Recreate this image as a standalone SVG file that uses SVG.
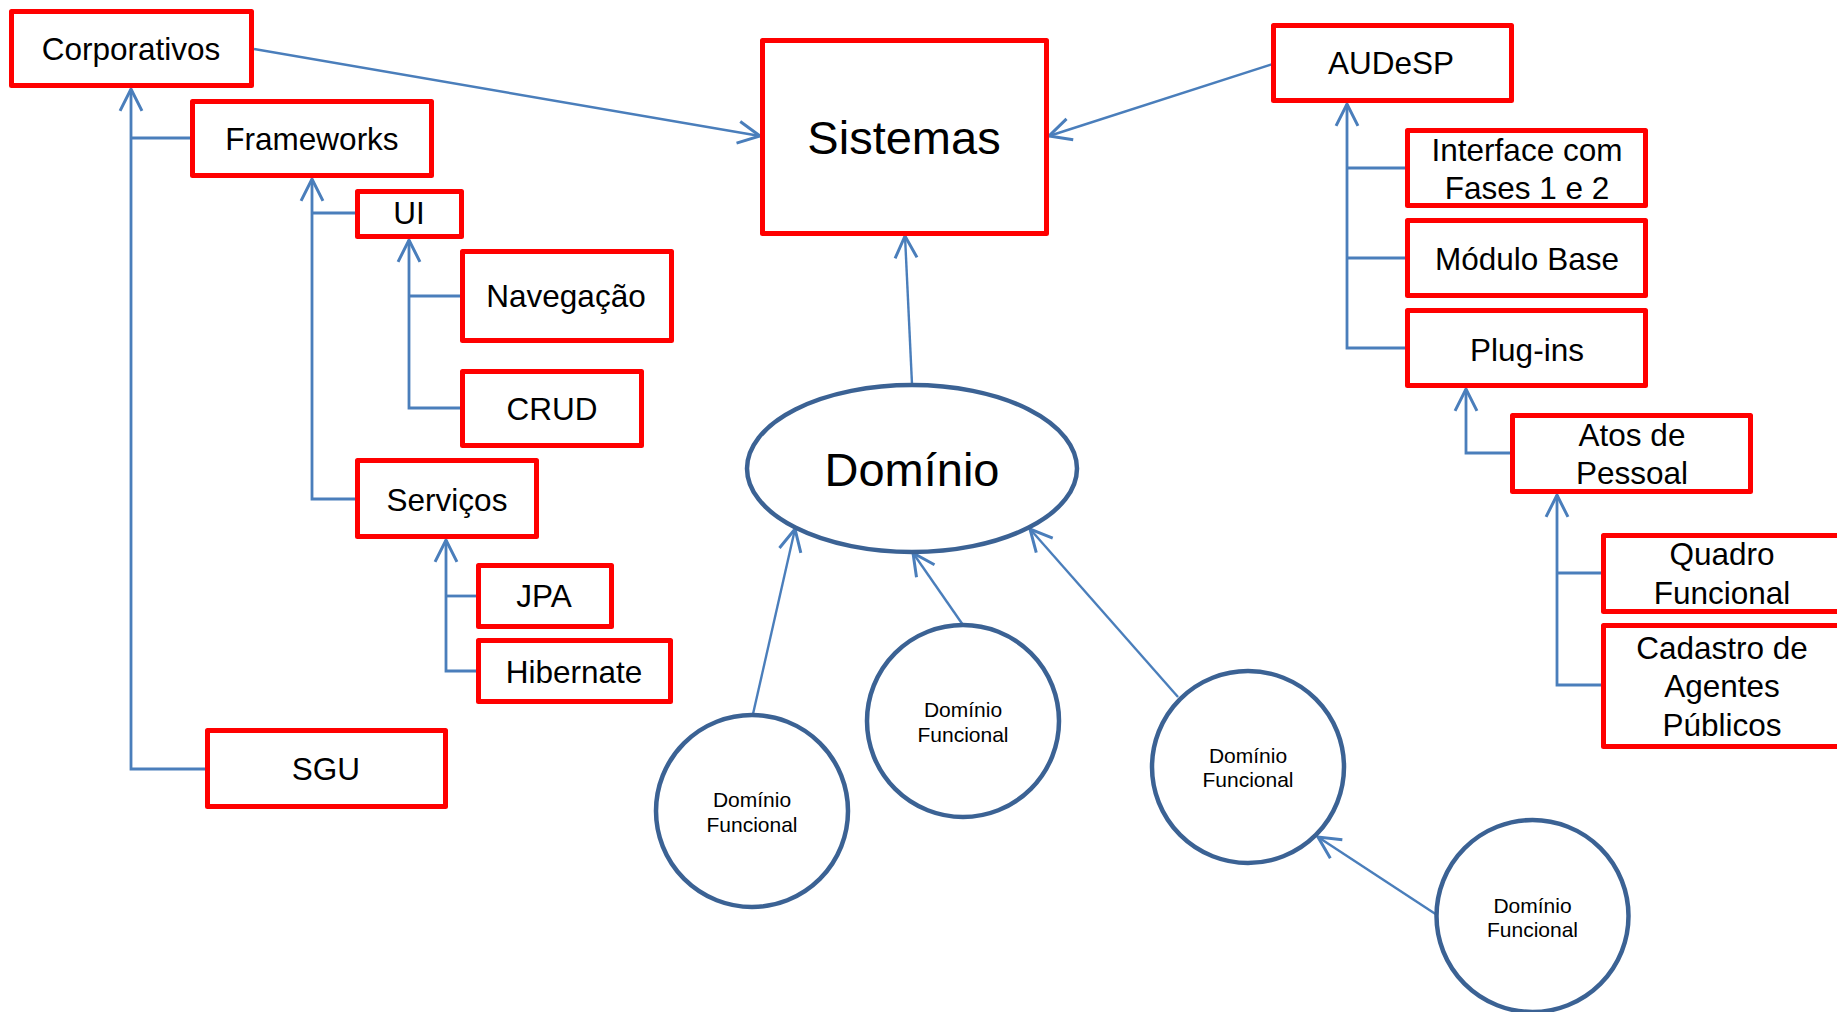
<svg xmlns="http://www.w3.org/2000/svg" width="1837" height="1012" viewBox="0 0 1837 1012">
<style>
.box{fill:#FFFFFF;stroke:#FF0000;stroke-width:5;stroke-linejoin:round}
.circ{fill:#FFFFFF;stroke:#3B6294;stroke-width:4.5}
.t{font-family:"Liberation Sans",Arial,sans-serif;font-size:31.5px;fill:#000000;text-anchor:middle}
.big{font-size:47px}
.sm{font-size:21px}
.c{fill:none;stroke:#4A7EBB;stroke-width:2.8}
.d{fill:none;stroke:#4A7EBB;stroke-width:2.4}
</style>
<defs>
<marker id="arr" markerUnits="userSpaceOnUse" markerWidth="30" markerHeight="30" viewBox="-22 -12 26 24" refX="0" refY="0" orient="auto" overflow="visible">
<path d="M-19,-9.5 L0,0 L-19,9.5" fill="none" stroke="#4A7EBB" stroke-width="2.6"/>
</marker>
</defs>
<rect width="1837" height="1012" fill="#FFFFFF"/>
<g id="connectors">
<line class="d" x1="254" y1="49" x2="760" y2="136" marker-end="url(#arr)"/>
<line class="d" x1="1273" y1="64" x2="1049" y2="136" marker-end="url(#arr)"/>
<line class="d" x1="912" y1="384" x2="905" y2="236" marker-end="url(#arr)"/>
<line class="d" x1="753" y1="714" x2="795" y2="529" marker-end="url(#arr)"/>
<line class="d" x1="963" y1="625" x2="913" y2="553" marker-end="url(#arr)"/>
<line class="d" x1="1178" y1="697" x2="1030" y2="529" marker-end="url(#arr)"/>
<line class="d" x1="1437" y1="915" x2="1318" y2="837" marker-end="url(#arr)"/>
<path class="c" d="M207,769 H131 V89" marker-end="url(#arr)"/>
<path class="c" d="M131,138 H192"/>
<path class="c" d="M357,499 H312 V179" marker-end="url(#arr)"/>
<path class="c" d="M312,213 H357"/>
<path class="c" d="M462,408 H409 V240" marker-end="url(#arr)"/>
<path class="c" d="M409,296 H462"/>
<path class="c" d="M478,671 H446 V540" marker-end="url(#arr)"/>
<path class="c" d="M446,596 H478"/>
<path class="c" d="M1407,348 H1347 V104" marker-end="url(#arr)"/>
<path class="c" d="M1347,168 H1407 M1347,258 H1407"/>
<path class="c" d="M1512,453 H1466 V389" marker-end="url(#arr)"/>
<path class="c" d="M1603,685 H1557 V495" marker-end="url(#arr)"/>
<path class="c" d="M1557,573 H1603"/>
</g>
<g id="corporativos"><rect class="box" x="11.5" y="11.5" width="240" height="74"/><text class="t" x="131" y="60">Corporativos</text></g>
<g id="frameworks"><rect class="box" x="192.5" y="101.5" width="239" height="74"/><text class="t" x="312" y="150">Frameworks</text></g>
<g id="ui"><rect class="box" x="357.5" y="191.5" width="104" height="45"/><text class="t" x="409" y="224">UI</text></g>
<g id="navegacao"><rect class="box" x="462.5" y="251.5" width="209" height="89"/><text class="t" x="566" y="307">Navegação</text></g>
<g id="crud"><rect class="box" x="462.5" y="371.5" width="179" height="74"/><text class="t" x="552" y="420">CRUD</text></g>
<g id="servicos"><rect class="box" x="357.5" y="460.5" width="179" height="76"/><text class="t" x="447" y="511">Serviços</text></g>
<g id="jpa"><rect class="box" x="478.5" y="565.5" width="133" height="61"/><text class="t" x="544" y="607">JPA</text></g>
<g id="hibernate"><rect class="box" x="478.5" y="640.5" width="192" height="61"/><text class="t" x="574" y="683">Hibernate</text></g>
<g id="sgu"><rect class="box" x="207.5" y="730.5" width="238" height="76"/><text class="t" x="326" y="780">SGU</text></g>
<g id="sistemas"><rect class="box" x="762.5" y="40.5" width="284" height="193"/><text class="t big" x="904" y="154">Sistemas</text></g>
<g id="audesp"><rect class="box" x="1273.5" y="25.5" width="238" height="75"/><text class="t" x="1391" y="74">AUDeSP</text></g>
<g id="interface"><rect class="box" x="1407.5" y="130.5" width="238" height="75"/><text class="t" x="1527" y="161">Interface com</text><text class="t" x="1527" y="199">Fases 1 e 2</text></g>
<g id="modulo-base"><rect class="box" x="1407.5" y="220.5" width="238" height="75"/><text class="t" x="1527" y="270">Módulo Base</text></g>
<g id="plug-ins"><rect class="box" x="1407.5" y="310.5" width="238" height="75"/><text class="t" x="1527" y="361">Plug-ins</text></g>
<g id="atos"><rect class="box" x="1512.5" y="415.5" width="238" height="76"/><text class="t" x="1632" y="446">Atos de</text><text class="t" x="1632" y="484">Pessoal</text></g>
<g id="quadro"><rect class="box" x="1603.5" y="535.5" width="238" height="76"/><text class="t" x="1722" y="565">Quadro</text><text class="t" x="1722" y="604">Funcional</text></g>
<g id="cadastro"><rect class="box" x="1603.5" y="625.5" width="238" height="121"/><text class="t" x="1722" y="659">Cadastro de</text><text class="t" x="1722" y="697">Agentes</text><text class="t" x="1722" y="736">Públicos</text></g>
<g id="dominio"><ellipse class="circ" cx="912" cy="468.5" rx="165" ry="83.5"/><text class="t big" x="912" y="486">Domínio</text></g>
<g id="df1"><circle class="circ" cx="752" cy="811" r="96"/><text class="t sm" x="752" y="807">Domínio</text><text class="t sm" x="752" y="832">Funcional</text></g>
<g id="df2"><circle class="circ" cx="963" cy="721" r="96"/><text class="t sm" x="963" y="717">Domínio</text><text class="t sm" x="963" y="742">Funcional</text></g>
<g id="df3"><circle class="circ" cx="1248" cy="767" r="96"/><text class="t sm" x="1248" y="763">Domínio</text><text class="t sm" x="1248" y="787">Funcional</text></g>
<g id="df4"><circle class="circ" cx="1532.5" cy="916" r="96"/><text class="t sm" x="1532.5" y="913">Domínio</text><text class="t sm" x="1532.5" y="937">Funcional</text></g>
</svg>
